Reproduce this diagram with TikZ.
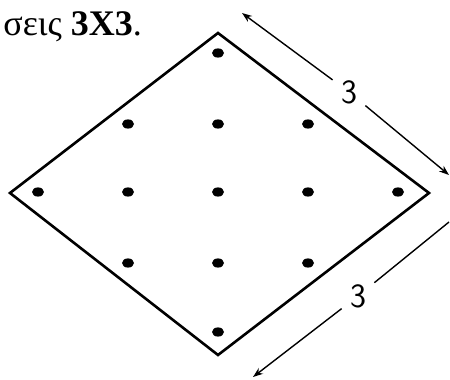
\documentclass[tikz,border=0pt]{standalone}
\usepackage{fontspec}
\setmainfont{Liberation Serif}
\usetikzlibrary{arrows.meta, positioning}

\begin{document}
\begin{tikzpicture}[x=0.5pt, y=-0.5pt,
    every node/.style={font=\fontsize{18}{20}\selectfont},
    side/.style={line width=1.3pt, line join=miter},
    dimline/.style={line width=0.7pt},
    dim/.style={dimline, -{Stealth[length=5pt, width=3.6pt]}},
    len/.style={font=\sffamily\fontsize{17}{19}\selectfont, inner sep=4pt},
]
\useasboundingbox (0,0) rectangle (450,380);

\node[anchor=base west, inner sep=0pt] (title) at (3,35) {σεις \textbf{3X3}.};

% the rhombus
\coordinate (top) at (218,33);
\coordinate (right) at (429,193);
\coordinate (bottom) at (218,355);
\coordinate (left) at (10,193);
\draw[side] (top) -- (right) -- (bottom) -- (left) -- cycle;

% the thirteen points
\foreach \x/\y in {218/53, 128/124, 218/124, 308/124,
                   38/192, 128/192, 218/192, 308/192, 398/192,
                   128/263, 218/263, 308/263, 218/332}
  \fill (\x,\y) ellipse [x radius=3pt, y radius=2.3pt];

% the two lengths
\node[len] (upper) at (349,92) {3};
\coordinate (u1) at (242,13);
\coordinate (u2) at (449,175);
\draw[dim] (upper) -- (u1);
\draw[dim] (upper) -- (u2);

\node[len] (lower) at (358,296) {3};
\coordinate (l1) at (449,222);
\coordinate (l2) at (253,377);
\draw[dimline] (lower) -- (l1);
\draw[dim] (lower) -- (l2);
\end{tikzpicture}
\end{document}
